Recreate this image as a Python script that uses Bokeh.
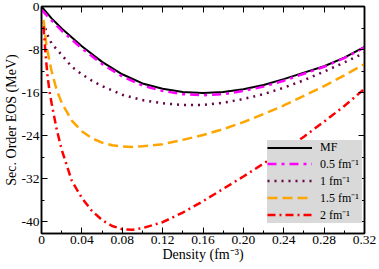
from bokeh.plotting import figure
from bokeh.models import Range1d, FixedTicker, LinearAxis
from bokeh.embed import file_html
from bokeh.resources import INLINE

# ---- data ----
rho_mf = [0, 0.01, 0.02, 0.04, 0.06, 0.08, 0.10, 0.12, 0.14, 0.16, 0.18, 0.20, 0.22, 0.24, 0.26, 0.28, 0.30, 0.32]
e_mf = [0, -2.2, -4.1, -7.4, -10.3, -12.6, -14.3, -15.3, -15.9, -16.1, -15.9, -15.4, -14.6, -13.5, -12.3, -11.1, -9.5, -7.5]

rho_05 = [0, 0.01, 0.02, 0.04, 0.06, 0.08, 0.10, 0.12, 0.14, 0.16, 0.18, 0.20, 0.22, 0.24, 0.26, 0.28, 0.30, 0.32]
e_05 = [-0.6, -2.6, -4.5, -7.8, -10.7, -13.0, -14.7, -15.7, -16.3, -16.5, -16.3, -15.7, -14.9, -13.8, -12.5, -11.2, -9.6, -7.6]

rho_1 = [0.002, 0.005, 0.01, 0.02, 0.03, 0.04, 0.05, 0.06, 0.08, 0.10, 0.12, 0.14, 0.16, 0.18, 0.20, 0.22, 0.24, 0.26, 0.28, 0.30, 0.32]
e_1 = [-2.8, -4.9, -6.9, -9.0, -11.2, -12.6, -13.8, -14.8, -16.4, -17.4, -18.0, -18.3, -18.3, -17.9, -17.2, -16.3, -15.1, -13.7, -12.1, -10.4, -8.6]

rho_15 = [0.002, 0.005, 0.01, 0.015, 0.02, 0.03, 0.04, 0.05, 0.06, 0.07, 0.08, 0.09, 0.10, 0.12, 0.14, 0.16, 0.18, 0.20, 0.22, 0.24, 0.26, 0.28, 0.30, 0.32]
e_15 = [-2.5, -7.4, -12.0, -15.5, -17.9, -21.2, -23.2, -24.5, -25.3, -25.8, -26.0, -26.1, -26.0, -25.6, -24.8, -23.9, -22.8, -21.5, -20.0, -18.4, -16.6, -14.8, -12.8, -10.7]

rho_2 = [0.002, 0.004, 0.006, 0.008, 0.01, 0.015, 0.02, 0.03, 0.04, 0.05, 0.06, 0.07, 0.08, 0.09, 0.10, 0.12, 0.14, 0.16, 0.18, 0.20, 0.22, 0.24, 0.26, 0.28, 0.30, 0.32]
e_2 = [-3.7, -8.8, -13.0, -15.8, -18.0, -22.8, -26.6, -32.4, -35.6, -38.0, -39.7, -40.8, -41.4, -41.5, -41.2, -40.1, -38.3, -36.2, -33.9, -31.6, -29.2, -26.8, -24.2, -21.4, -18.5, -15.3]

x_ticks = [0, 0.04, 0.08, 0.12, 0.16, 0.20, 0.24, 0.28, 0.32]
x_tick_labels = ["0", "0.04", "0.08", "0.12", "0.16", "0.20", "0.24", "0.28", "0.32"]
x_minor = [0.02, 0.06, 0.10, 0.14, 0.18, 0.22, 0.26, 0.30]
y_ticks = [0, -8, -16, -24, -32, -40]
y_tick_labels = ["0", "-8", "-16", "-24", "-32", "-40"]
y_minor = [-4, -12, -20, -28, -36]
x_title = "Density (fm\u207b\u00b3)"
y_title = "Sec. Order EOS (MeV)"

FONT = "Liberation Serif"

p = figure(width=379, height=269, output_backend="svg", toolbar_location=None,
           x_range=Range1d(0, 0.32), y_range=Range1d(-42.2, 0),
           min_border_top=6, min_border_right=15, min_border_left=37, min_border_bottom=36)
p.grid.visible = False
p.outline_line_color = "black"
p.outline_line_width = 1.5

xt = FixedTicker(ticks=x_ticks, minor_ticks=x_minor)
yt = FixedTicker(ticks=y_ticks, minor_ticks=y_minor)

def style_axis(ax, labels=True, title_size="14px"):
    ax.axis_line_color = "black"
    ax.axis_line_width = 1.5
    ax.major_tick_in = 6
    ax.major_tick_out = 0
    ax.minor_tick_in = 3
    ax.minor_tick_out = 0
    ax.major_tick_line_width = 1
    ax.minor_tick_line_width = 1
    ax.major_label_text_font = FONT
    ax.axis_label_text_font = FONT
    ax.axis_label_text_font_style = "normal"
    ax.axis_label_text_color = "black"
    if labels:
        ax.major_label_text_color = "black"
        ax.major_label_text_font_size = "13.5px"
        ax.axis_label_text_font_size = title_size
        ax.major_label_standoff = 2
        ax.axis_label_standoff = 0
    else:
        ax.major_label_text_color = None
        ax.major_label_text_font_size = "0px"
        ax.major_label_standoff = 0

xa = p.xaxis[0]
ya = p.yaxis[0]
xa.ticker = xt
ya.ticker = yt
xa.major_label_overrides = {t: l for t, l in zip(x_ticks, x_tick_labels)}
ya.major_label_overrides = {t: l for t, l in zip(y_ticks, y_tick_labels)}
style_axis(xa, title_size="14px")
style_axis(ya, title_size="14px")
xa.axis_label = x_title
ya.axis_label = y_title

top = LinearAxis(ticker=xt)
style_axis(top, labels=False)
p.add_layout(top, "above")
right = LinearAxis(ticker=yt)
style_axis(right, labels=False)
p.add_layout(right, "right")

p.line(rho_mf, e_mf, line_color="black", line_width=2, legend_label="MF")
p.line(rho_05, e_05, line_color="#ff00ff", line_width=2.5, line_dash="9 5 3 5", legend_label="0.5 fm\u207b\u00b9")
p.line(rho_1, e_1, line_color="#670748", line_width=2.5, line_dash="2 5", legend_label="1 fm\u207b\u00b9")
p.line(rho_15, e_15, line_color="#ffa500", line_width=2.5, line_dash="10 5", legend_label="1.5 fm\u207b\u00b9")
p.line(rho_2, e_2, line_color="#ff0000", line_width=2.5, line_dash="8 4 2 4", legend_label="2 fm\u207b\u00b9")

lg = p.legend[0]
lg.location = (226, 10)
lg.background_fill_color = "#d9d9d9"
lg.background_fill_alpha = 1
lg.border_line_color = None
lg.label_text_font = FONT
lg.label_text_font_size = "12px"
lg.label_text_color = "black"
lg.glyph_width = 45
lg.glyph_height = 13
lg.label_height = 13
lg.label_width = 42
lg.label_standoff = 8
lg.spacing = 0
lg.padding = 2
lg.margin = 0

open("out.html", "w").write(file_html(p, INLINE))
